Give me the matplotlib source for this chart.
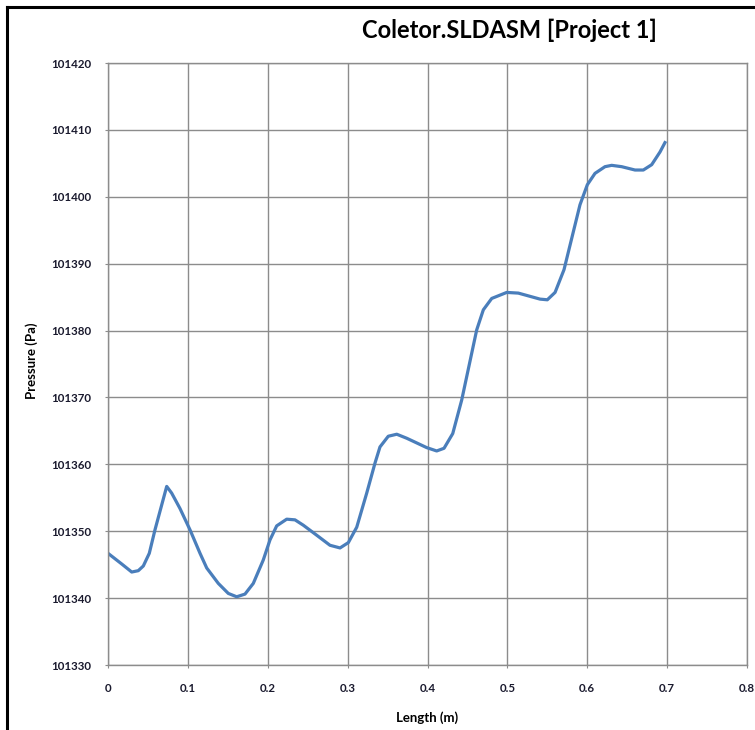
import matplotlib
matplotlib.use("Agg")
import matplotlib.pyplot as plt
from matplotlib.lines import Line2D
import numpy as np

# pressure along the collector, read from the flow simulation
length_m = [0.000, 0.0172, 0.0297, 0.0379, 0.0442, 0.0517, 0.0588, 0.0735, 0.0797, 0.0901,
            0.1027, 0.1152, 0.1236, 0.1381, 0.1506, 0.1611, 0.1715, 0.1819, 0.1944, 0.2028,
            0.2112, 0.2237, 0.2341, 0.2445, 0.2613, 0.2779, 0.2905, 0.3009, 0.3114, 0.3239,
            0.3343, 0.3405, 0.3509, 0.3615, 0.3740, 0.3990, 0.4115, 0.4207, 0.4316, 0.4428,
            0.4616, 0.4699, 0.4804, 0.4992, 0.5137, 0.5409, 0.5500, 0.5597, 0.5709, 0.5909,
            0.6001, 0.6097, 0.6222, 0.6306, 0.6431, 0.6598, 0.6702, 0.6807, 0.6911, 0.6973]
pressure_pa = [101346.7, 101345.1, 101343.9, 101344.1, 101344.8, 101346.7, 101350.2, 101356.7, 101355.7, 101353.4,
               101350.2, 101346.7, 101344.5, 101342.2, 101340.7, 101340.2, 101340.6, 101342.2, 101345.7, 101348.7,
               101350.8, 101351.8, 101351.7, 101350.9, 101349.4, 101347.9, 101347.5, 101348.3, 101350.6, 101355.7,
               101360.2, 101362.6, 101364.2, 101364.5, 101363.9, 101362.5, 101362.0, 101362.4, 101364.6, 101369.6,
               101380.1, 101383.1, 101384.8, 101385.7, 101385.6, 101384.7, 101384.6, 101385.7, 101389.1, 101398.8,
               101401.8, 101403.5, 101404.5, 101404.7, 101404.5, 101404.0, 101404.0, 101404.8, 101406.7, 101408.1]

x_ticks = [0, 0.1, 0.2, 0.3, 0.4, 0.5, 0.6, 0.7, 0.8]
x_tick_labels = ["0", "0.1", "0.2", "0.3", "0.4", "0.5", "0.6", "0.7", "0.8"]
y_ticks = [101330, 101340, 101350, 101360, 101370, 101380, 101390, 101400, 101410, 101420]

plt.rcParams['font.family'] = ['Lato', 'DejaVu Sans']

fig = plt.figure(figsize=(7.55, 7.3), dpi=100)
ax = fig.add_axes([108/755, 1 - 665/730, 639/755, 602/730])

ax.plot(length_m, pressure_pa, color='#4a7ebb', lw=2.3, solid_joinstyle='round')

ax.set_xlim(0, 0.8)
ax.set_ylim(101330, 101420)
ax.set_xticks(x_ticks)
ax.set_xticklabels(x_tick_labels)
ax.set_yticks(y_ticks)
ax.set_yticklabels([str(v) for v in y_ticks])
ax.grid(True, color='#8c8c8c', lw=1)
ax.set_axisbelow(True)
for s in ax.spines.values():
    s.set_color('#8c8c8c')
    s.set_linewidth(1)
ax.tick_params(axis='both', direction='out', length=2.5, color='#8c8c8c',
               labelsize=8.3, labelcolor='#1a1a2e')
ax.tick_params(axis='y', pad=9.5)
ax.tick_params(axis='x', pad=10.5)
for lab in ax.get_xticklabels() + ax.get_yticklabels():
    lab.set_fontweight('bold')

fig.text(509/755, 1 - 30/730, "Coletor.SLDASM [Project 1]", fontsize=17, fontweight='bold',
         ha='center', va='center')
fig.text(32/755, 1 - 361/730, "Pressure (Pa)", fontsize=9.5, fontweight='bold',
         rotation=90, ha='center', va='center')
fig.text(427/755, 1 - 718/730, "Length (m)", fontsize=9.5, fontweight='bold',
         ha='center', va='center')

# black frame on the left and top edges
fig.add_artist(Line2D([7/755, 7/755], [0, 1 - 7/730], color='black', lw=2.2, transform=fig.transFigure))
fig.add_artist(Line2D([7/755, 1], [1 - 7/730, 1 - 7/730], color='black', lw=2.2, transform=fig.transFigure))

fig.savefig("out.png", dpi=100)
